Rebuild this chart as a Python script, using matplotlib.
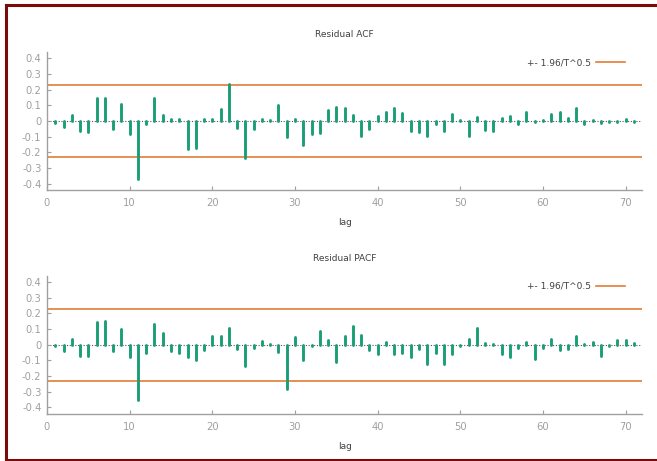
import numpy as np
import matplotlib.pyplot as plt
from matplotlib.lines import Line2D

# residual ACF / PACF (lags 1..71)
lags = np.arange(1, 72)
acf = [-0.01, -0.04, 0.04, -0.065, -0.07, 0.15, 0.15, -0.05, 0.11, -0.08,
       -0.37, -0.02, 0.15, 0.04, 0.015, 0.015, -0.18, -0.175, 0.015, 0.01,
       0.075, 0.235, -0.045, -0.235, -0.05, 0.013, 0.004, 0.10, -0.10, 0.013,
       -0.155, -0.085, -0.075, 0.07, 0.087, 0.084, 0.04, -0.095, -0.048, 0.032,
       0.057, 0.085, 0.052, -0.065, -0.073, -0.098, -0.02, -0.065, 0.045, 0.004,
       -0.098, 0.025, -0.058, -0.063, 0.02, 0.03, -0.02, 0.055, -0.008, 0.005,
       0.045, 0.06, 0.02, 0.08, -0.02, 0.005, -0.01, -0.007, -0.007, 0.012,
       -0.004]
pacf = [-0.01, -0.04, 0.04, -0.07, -0.07, 0.145, 0.15, -0.04, 0.10, -0.08,
        -0.35, -0.05, 0.13, 0.075, -0.04, -0.05, -0.08, -0.10, -0.035, 0.055,
        0.055, 0.105, -0.03, -0.135, -0.02, 0.025, 0.008, -0.045, -0.285, 0.05,
        -0.095, -0.01, 0.09, 0.03, -0.11, 0.055, 0.12, 0.06, -0.035, -0.06,
        0.015, -0.06, -0.05, -0.08, -0.03, -0.12, -0.05, -0.125, -0.06, -0.005,
        0.035, 0.11, 0.01, 0.003, -0.06, -0.08, -0.02, 0.015, -0.09, -0.02,
        0.04, -0.035, -0.025, 0.055, 0.005, 0.02, -0.07, -0.01, 0.03, 0.03,
        0.01]
T = 72
band = 1.96 / np.sqrt(T)

yticks = [-0.4, -0.3, -0.2, -0.1, 0, 0.1, 0.2, 0.3, 0.4]
yticklabels = ['-0.4', '-0.3', '-0.2', '-0.1', '0', '0.1', '0.2', '0.3', '0.4']
xticks = [0, 10, 20, 30, 40, 50, 60, 70]

green = '#1b9e77'
orange = '#e37c35'
grey = '#a0a0a0'
txt = '#404040'

fig = plt.figure(figsize=(6.57, 4.61), dpi=100)

def panel(rect, vals, title):
    ax = fig.add_axes(rect)
    ax.axhline(0, color='#555555', lw=0.8, ls=(0, (1, 1.5)), zorder=1)
    ax.vlines(lags, 0, vals, color=green, lw=2.1, capstyle='round', zorder=3)
    ax.axhline(band, color=orange, lw=1.2, zorder=2, label='+- 1.96/T^0.5')
    ax.axhline(-band, color=orange, lw=1.2, zorder=2)
    ax.set_xlim(0, 72)
    ax.set_ylim(-0.44, 0.44)
    ax.set_xticks(xticks)
    ax.set_yticks(yticks)
    ax.set_yticklabels(yticklabels)
    for s in ['top', 'right']:
        ax.spines[s].set_visible(False)
    for s in ['left', 'bottom']:
        ax.spines[s].set_color(grey)
        ax.spines[s].set_linewidth(1.0)
    ax.tick_params(direction='in', length=3, color=grey, labelcolor=grey,
                   labelsize=7.2)
    ax.tick_params(axis='x', pad=6)
    ax.tick_params(axis='y', pad=4)
    ax.set_title(title, fontsize=6.5, color=txt, pad=11)
    ax.set_xlabel('lag', fontsize=6.5, color=txt, labelpad=7)
    ax.legend(loc='upper right', bbox_to_anchor=(0.985, 1.015), frameon=False,
              markerfirst=False, fontsize=6.5, labelcolor=txt,
              handlelength=3.2, handletextpad=0.6)
    return ax

panel([0.0715, 0.588, 0.906, 0.299], acf, 'Residual ACF')
panel([0.0715, 0.1026, 0.906, 0.299], pacf, 'Residual PACF')

# dark red frame (top, left, bottom)
W, H = 657.0, 461.0
frame = dict(color='#7b0a0a', lw=2.2, transform=fig.transFigure)
fig.add_artist(Line2D([6 / W, 1.0], [1 - 5 / H, 1 - 5 / H], **frame))
fig.add_artist(Line2D([6 / W, 6 / W], [1 - 5 / H, 1 - 459.5 / H], **frame))
fig.add_artist(Line2D([6 / W, 1.0], [1 - 459.5 / H, 1 - 459.5 / H], **frame))

fig.savefig('out.png', dpi=100)
